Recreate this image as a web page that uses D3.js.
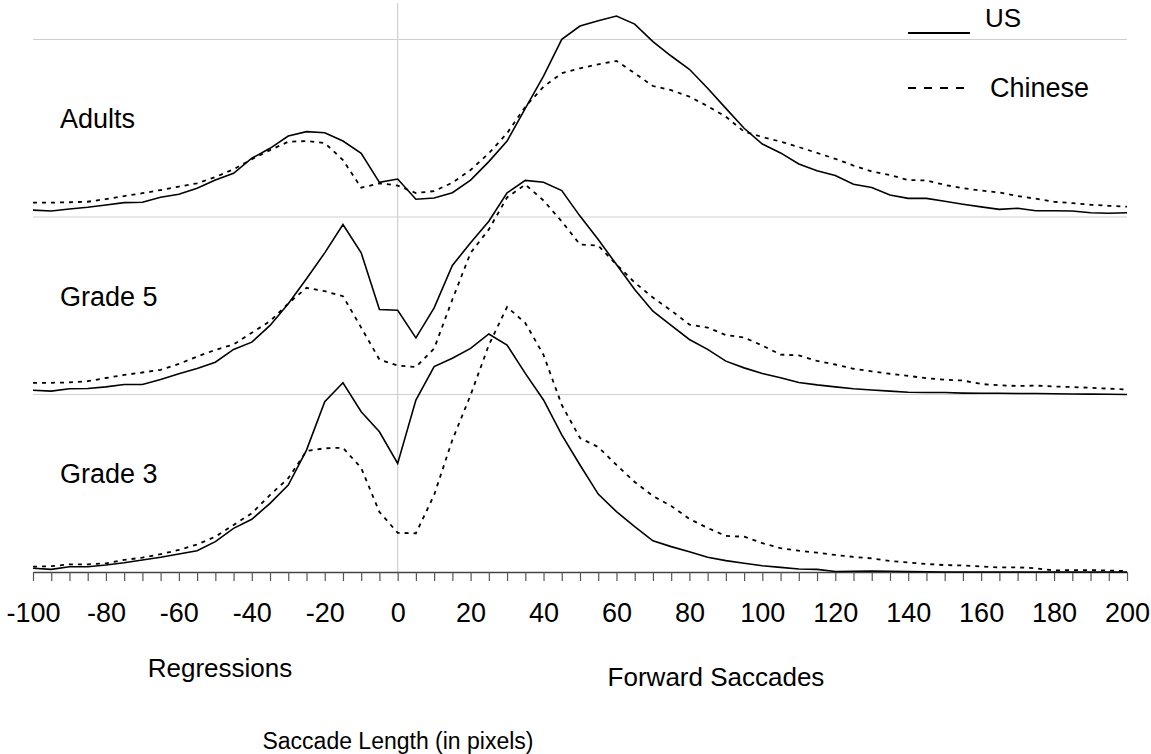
<!DOCTYPE html>
<html>
<head>
<meta charset="utf-8">
<script src="https://cdn.jsdelivr.net/npm/d3@7"></script>
<style>
  body { margin: 0; background: #fff; }
  text { font-family: "Liberation Sans", Arial, sans-serif; fill: #000; }
</style>
</head>
<body>
<div id="container"></div>
<script>
// saccade length bins (pixels), every 5
const lengths = d3.range(-100, 201, 5);
const xTicks = d3.range(-100, 201, 20);

const groups = ["Grade 3", "Grade 5", "Adults"];

// relative frequency per bin, one panel = 10 units
const adultsUS = [0.39,0.34,0.45,0.55,0.68,0.81,0.83,1.11,1.28,1.62,2.08,2.46,3.31,3.87,4.56,4.81,4.75,4.28,3.59,1.95,
  2.14,1.00,1.07,1.37,2.08,3.12,4.28,6.12,7.94,10.01,10.76,11.06,11.32,10.87,9.88,9.07,8.32,7.25,6.12,5.00,
  4.11,3.61,2.99,2.61,2.34,1.84,1.66,1.24,1.05,1.05,0.89,0.72,0.57,0.43,0.49,0.35,0.35,0.34,0.24,0.21,0.24];
const adultsCN = [0.81,0.81,0.83,0.86,1.01,1.18,1.34,1.52,1.71,1.90,2.25,2.69,3.25,3.77,4.24,4.28,4.17,3.21,1.65,1.90,
  1.77,1.35,1.46,1.93,2.65,3.59,4.72,6.21,7.34,8.10,8.38,8.60,8.79,8.10,7.38,7.15,6.78,6.25,5.65,4.81,
  4.51,4.25,3.94,3.61,3.28,2.90,2.57,2.37,2.08,2.06,1.81,1.62,1.49,1.38,1.18,1.03,0.86,0.78,0.69,0.63,0.58];
const grade5US = [0.24,0.19,0.32,0.34,0.43,0.56,0.56,0.85,1.17,1.46,1.82,2.54,2.95,3.89,5.11,6.52,7.98,9.58,7.98,4.79,
  4.75,3.19,4.88,7.27,8.55,9.76,11.36,12.06,11.96,11.49,10.05,8.73,7.32,5.92,4.69,3.89,3.10,2.54,1.88,1.50,
  1.18,0.94,0.68,0.54,0.43,0.32,0.25,0.19,0.13,0.11,0.11,0.08,0.07,0.07,0.06,0.06,0.04,0.03,0.02,0.01,0.00];
const grade5CN = [0.66,0.66,0.68,0.75,0.93,1.10,1.24,1.39,1.72,2.14,2.51,2.82,3.48,4.13,5.13,6.01,5.82,5.54,3.77,1.97,
  1.63,1.55,2.59,5.35,7.98,9.30,11.10,11.83,10.93,9.75,8.45,8.39,7.32,6.31,5.46,4.73,3.94,3.77,3.35,3.21,
  2.76,2.25,2.20,1.89,1.69,1.45,1.30,1.17,1.05,0.92,0.83,0.79,0.59,0.52,0.48,0.50,0.45,0.42,0.38,0.33,0.28];
const grade3US = [0.21,0.15,0.30,0.30,0.39,0.52,0.68,0.83,1.01,1.20,1.71,2.46,2.97,3.87,4.90,6.87,9.59,10.66,9.03,7.90,
  6.12,9.69,11.57,12.04,12.60,13.41,12.79,11.19,9.69,7.72,6.03,4.39,3.40,2.55,1.76,1.43,1.14,0.83,0.64,0.49,
  0.35,0.26,0.17,0.15,0.03,0.04,0.06,0.04,0.02,0.01,0,0,0,0,0,0,0,0,0,0,0];
const grade3CN = [0.30,0.33,0.43,0.43,0.49,0.68,0.81,1.01,1.24,1.55,1.99,2.65,3.31,4.34,5.28,6.82,6.97,7.00,5.86,3.38,
  2.21,2.18,4.34,7.44,9.97,12.79,14.93,14.03,12.23,9.41,7.55,7.04,6.03,5.07,4.28,3.72,2.99,2.48,2.03,1.99,
  1.63,1.34,1.20,1.09,0.96,0.85,0.77,0.62,0.54,0.45,0.39,0.37,0.31,0.26,0.26,0.21,0.08,0.11,0.11,0.08,0.06];

const usSeries = [grade3US, grade5US, adultsUS];
const cnSeries = [grade3CN, grade5CN, adultsCN];

const w = 1151, h = 754;
const left = 33, right = 1127;
const axisY = 572;
const panelH = 177.5;

const svg = d3.select("#container").append("svg")
  .attr("width", w).attr("height", h);

const x = d3.scaleLinear().domain([-100, 200]).range([left, right]);

// one y scale per panel, stacked from the bottom
const yScales = groups.map((g, i) => d3.scaleLinear()
  .domain([0, 10])
  .range([axisY - i * panelH, axisY - (i + 1) * panelH]));

// gray gridlines at the top of every panel
svg.append("g").selectAll("line")
  .data(yScales)
  .enter().append("line")
  .attr("x1", left).attr("x2", right)
  .attr("y1", d => d(10)).attr("y2", d => d(10))
  .attr("stroke", "#cfcfcf").attr("stroke-width", 1.2);

// vertical line at zero
svg.append("line")
  .attr("x1", x(0)).attr("x2", x(0))
  .attr("y1", 3).attr("y2", axisY)
  .attr("stroke", "#cfcfcf").attr("stroke-width", 1.2);

// x axis
const xAxis = d3.axisBottom(x)
  .tickValues(d3.range(-100, 201, 5))
  .tickSize(9)
  .tickSizeOuter(0)
  .tickFormat(d => xTicks.includes(d) ? d : "");

const gx = svg.append("g")
  .attr("transform", "translate(0," + axisY + ")")
  .call(xAxis);
gx.select(".domain").attr("stroke", "#444").attr("stroke-width", 1.3);
gx.selectAll(".tick line").attr("stroke", "#555").attr("stroke-width", 1.2);
gx.selectAll(".tick text")
  .attr("y", 50)
  .attr("dy", 0)
  .style("font-size", "27px")
  .style("font-family", "'Liberation Sans', Arial, sans-serif")
  .attr("fill", "#000");

// curves
groups.forEach((g, i) => {
  const line = d3.line()
    .x((d, j) => x(lengths[j]))
    .y(d => yScales[i](d));

  svg.append("path")
    .datum(cnSeries[i])
    .attr("fill", "none")
    .attr("stroke", "#000")
    .attr("stroke-width", 1.8)
    .attr("stroke-dasharray", "4,5")
    .attr("d", line);

  svg.append("path")
    .datum(usSeries[i])
    .attr("fill", "none")
    .attr("stroke", "#000")
    .attr("stroke-width", 1.6)
    .attr("d", line);

  svg.append("text")
    .attr("x", 60)
    .attr("y", yScales[i](5.0))
    .style("font-size", "27px")
    .text(g);
});

// legend
svg.append("line")
  .attr("x1", 908).attr("x2", 970)
  .attr("y1", 33).attr("y2", 33)
  .attr("stroke", "#000").attr("stroke-width", 1.8);
svg.append("text")
  .attr("x", 985).attr("y", 27)
  .style("font-size", "26px")
  .text("US");

svg.append("line")
  .attr("x1", 908).attr("x2", 966)
  .attr("y1", 88).attr("y2", 88)
  .attr("stroke", "#000").attr("stroke-width", 1.8)
  .attr("stroke-dasharray", "8,8");
svg.append("text")
  .attr("x", 990).attr("y", 97)
  .style("font-size", "27px")
  .text("Chinese");

// labels under the axis
svg.append("text")
  .attr("x", 220).attr("y", 677)
  .attr("text-anchor", "middle")
  .style("font-size", "26px")
  .text("Regressions");

svg.append("text")
  .attr("x", 716).attr("y", 686)
  .attr("text-anchor", "middle")
  .style("font-size", "26px")
  .text("Forward Saccades");

svg.append("text")
  .attr("x", 398).attr("y", 749)
  .attr("text-anchor", "middle")
  .style("font-size", "23px")
  .text("Saccade Length (in pixels)");
</script>
</body>
</html>
